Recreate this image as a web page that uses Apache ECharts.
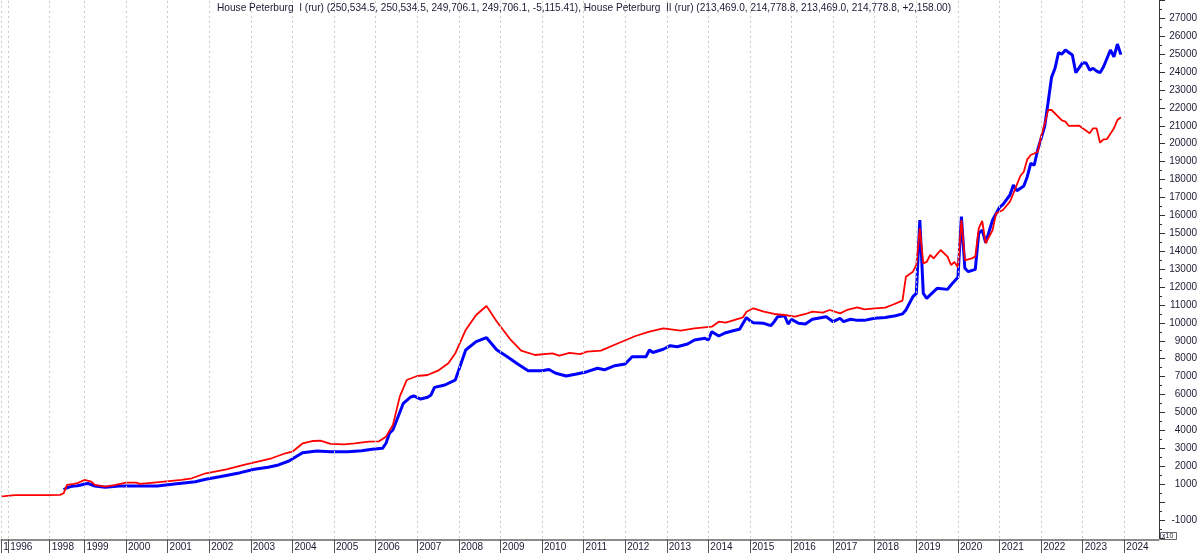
<!DOCTYPE html>
<html>
<head>
<meta charset="utf-8">
<script src="https://cdn.jsdelivr.net/npm/echarts@6/dist/echarts.min.js"></script>
<style>html,body{margin:0;padding:0;background:#fff}#c{width:1200px;height:553px}</style>
</head>
<body>
<div id="c"></div>
<script>
// ---- categories (irregular sampling: sparse before 1999, monthly after) ----
const categories = ['1995-11', '1995-12'];
[1996, 1997].forEach(y => [1, 3, 5, 7, 9, 11].forEach(m => categories.push(y + '-' + String(m).padStart(2, '0'))));
for (let m = 1; m <= 10; m++) categories.push('1998-' + String(m).padStart(2, '0'));
for (let y = 1999; y <= 2023; y++) for (let m = 1; m <= 12; m++) categories.push(y + '-' + String(m).padStart(2, '0'));
for (let m = 1; m <= 11; m++) categories.push('2024-' + String(m).padStart(2, '0'));

// year tick positions (first category of every labelled year)
const yearTickCats = ['1995-11', '1996-01', '1998-01', '1999-01', '2000-01', '2001-01', '2002-01', '2003-01',
  '2004-01', '2005-01', '2006-01', '2007-01', '2008-01', '2009-01', '2010-01', '2011-01', '2012-01', '2013-01',
  '2014-01', '2015-01', '2016-01', '2017-01', '2018-01', '2019-01', '2020-01', '2021-01', '2022-01', '2023-01', '2024-01'];
const yearTickLabels = ['1', '1996', '1998', '1999', '2000', '2001', '2002', '2003', '2004', '2005', '2006', '2007',
  '2008', '2009', '2010', '2011', '2012', '2013', '2014', '2015', '2016', '2017', '2018', '2019', '2020', '2021',
  '2022', '2023', '2024'];

const titleText = 'House Peterburg  I (rur) (250,534.5, 250,534.5, 249,706.1, 249,706.1, -5,115.41), House Peterburg  II (rur) (213,469.0, 214,778.8, 213,469.0, 214,778.8, +2,158.00)';

// ---- House Peterburg I (blue) ----
const houseI = [
  ['1998-05', 700], ['1998-06', 800], ['1998-07', 860], ['1998-08', 900], ['1998-09', 915], ['1998-10', 950],
  ['1999-01', 1010], ['1999-02', 1040], ['1999-04', 898], ['1999-07', 826], ['1999-11', 898], ['2000-05', 898],
  ['2000-10', 898], ['2001-03', 1010], ['2001-09', 1138], ['2001-12', 1272], ['2002-04', 1417], ['2002-10', 1641],
  ['2003-02', 1830], ['2003-06', 1942], ['2003-09', 2070], ['2003-12', 2293], ['2004-02', 2533], ['2004-04', 2757],
  ['2004-08', 2851], ['2004-12', 2812], ['2005-05', 2812], ['2005-09', 2868], ['2005-12', 2950], ['2006-03', 3000],
  ['2006-04', 3281], ['2006-05', 3839], ['2006-06', 4023], ['2006-09', 5513], ['2006-11', 5848], ['2006-12', 5920],
  ['2007-02', 5750], ['2007-04', 5848], ['2007-05', 5976], ['2007-06', 6400], ['2007-09', 6534], ['2007-11', 6718],
  ['2007-12', 6813], ['2008-03', 8487], ['2008-06', 8950], ['2008-09', 9175], ['2008-12', 8487], ['2009-03', 8113],
  ['2009-06', 7706], ['2009-09', 7332], ['2010-01', 7332], ['2010-03', 7400], ['2010-05', 7187], ['2010-08', 7036],
  ['2010-11', 7150], ['2011-02', 7276], ['2011-05', 7466], ['2011-07', 7380], ['2011-10', 7611], ['2012-01', 7706],
  ['2012-03', 8113], ['2012-07', 8113], ['2012-08', 8487], ['2012-09', 8350], ['2012-12', 8526], ['2013-02', 8727],
  ['2013-04', 8670], ['2013-07', 8822], ['2013-09', 9045], ['2013-12', 9140], ['2014-01', 9045], ['2014-02', 9508],
  ['2014-04', 9268], ['2014-06', 9452], ['2014-09', 9603], ['2014-10', 9642], ['2014-12', 10300], ['2015-01', 10122],
  ['2015-02', 10010], ['2015-05', 9976], ['2015-07', 9843], ['2015-08', 10066], ['2015-09', 10345], ['2015-11', 10400],
  ['2015-12', 9938], ['2016-01', 10198], ['2016-03', 9976], ['2016-05', 9938], ['2016-07', 10200], ['2016-11', 10345],
  ['2017-01', 10066], ['2017-03', 10257], ['2017-04', 10066], ['2017-06', 10200], ['2017-08', 10140], ['2017-10', 10140],
  ['2018-01', 10257], ['2018-04', 10300], ['2018-07', 10400], ['2018-09', 10500], ['2018-10', 10719], ['2018-12', 11461],
  ['2019-01', 11650], ['2019-02', 15740], ['2019-03', 11650], ['2019-04', 11370], ['2019-05', 11560], ['2019-07', 11930],
  ['2019-10', 11870], ['2019-11', 12114], ['2020-01', 12543], ['2020-02', 15926], ['2020-03', 13046], ['2020-04', 12856],
  ['2020-06', 12990], ['2020-07', 14998], ['2020-08', 15182], ['2020-09', 14474], ['2020-11', 15740], ['2021-01', 16449],
  ['2021-02', 16617], ['2021-04', 17136], ['2021-05', 17694], ['2021-06', 17376], ['2021-08', 17640], ['2021-09', 18157],
  ['2021-10', 18905], ['2021-11', 18800], ['2021-12', 19647], ['2022-02', 20950], ['2022-03', 22300], ['2022-04', 23700],
  ['2022-05', 24206], ['2022-06', 25076], ['2022-07', 25000], ['2022-08', 25227], ['2022-10', 24950], ['2022-11', 23961],
  ['2023-01', 24519], ['2023-02', 24500], ['2023-03', 24111], ['2023-04', 24200], ['2023-05', 24050], ['2023-06', 23961],
  ['2023-07', 24296], ['2023-09', 25227], ['2023-10', 24850], ['2023-11', 25562], ['2023-12', 24971]
];

// ---- House Peterburg II (red) ----
const houseII = [
  ['1995-11', 320], ['1995-12', 330], ['1996-05', 390], ['1997-11', 390], ['1998-01', 390], ['1998-04', 400],
  ['1998-05', 490], ['1998-06', 960], ['1998-08', 1010], ['1998-09', 1060], ['1999-01', 1233], ['1999-03', 1140],
  ['1999-04', 954], ['1999-07', 860], ['1999-10', 954], ['2000-01', 1083], ['2000-04', 1083], ['2000-05', 1010],
  ['2000-09', 1083], ['2000-12', 1138], ['2001-05', 1233], ['2001-08', 1328], ['2001-12', 1607], ['2002-06', 1830],
  ['2002-11', 2070], ['2003-03', 2254], ['2003-07', 2444], ['2003-11', 2723], ['2004-01', 2812], ['2004-04', 3281],
  ['2004-07', 3409], ['2004-09', 3426], ['2004-10', 3370], ['2004-12', 3242], ['2005-04', 3220], ['2005-07', 3281],
  ['2005-11', 3370], ['2006-02', 3390], ['2006-04', 3650], ['2006-06', 4300], ['2006-08', 5900], ['2006-10', 6813],
  ['2007-01', 7036], ['2007-04', 7092], ['2007-07', 7332], ['2007-10', 7745], ['2007-12', 8303], ['2008-03', 9603],
  ['2008-06', 10440], ['2008-09', 10942], ['2008-12', 10066], ['2009-04', 9045], ['2009-07', 8448], ['2009-11', 8208],
  ['2010-04', 8303], ['2010-06', 8169], ['2010-09', 8320], ['2010-12', 8260], ['2011-02', 8393], ['2011-06', 8448],
  ['2011-11', 8861], ['2012-04', 9268], ['2012-08', 9508], ['2012-12', 9697], ['2013-05', 9564], ['2013-09', 9697],
  ['2014-02', 9787], ['2014-04', 10066], ['2014-06', 10010], ['2014-11', 10312], ['2014-12', 10624], ['2015-02', 10814],
  ['2015-05', 10624], ['2015-08', 10496], ['2015-11', 10440], ['2016-02', 10345], ['2016-05', 10496], ['2016-07', 10624],
  ['2016-10', 10570], ['2016-12', 10719], ['2017-03', 10530], ['2017-05', 10719], ['2017-08', 10870], ['2017-10', 10757],
  ['2018-01', 10814], ['2018-04', 10850], ['2018-06', 10998], ['2018-09', 11238], ['2018-10', 12577], ['2018-12', 12856],
  ['2019-01', 13230], ['2019-02', 15278], ['2019-03', 13324], ['2019-04', 13400], ['2019-05', 13788], ['2019-06', 13600],
  ['2019-08', 14066], ['2019-10', 13700], ['2019-11', 13230], ['2019-12', 13400], ['2020-01', 13100], ['2020-02', 15740],
  ['2020-03', 13509], ['2020-04', 13550], ['2020-05', 13600], ['2020-06', 13700], ['2020-07', 15278], ['2020-08', 15685],
  ['2020-09', 14438], ['2020-11', 15182], ['2020-12', 16113], ['2021-02', 16299], ['2021-04', 16763], ['2021-05', 17232],
  ['2021-07', 18197], ['2021-08', 18436], ['2021-09', 19128], ['2021-10', 19368], ['2021-11', 19450], ['2021-12', 19552],
  ['2022-01', 20400], ['2022-02', 21100], ['2022-03', 21880], ['2022-04', 21880], ['2022-07', 21300], ['2022-08', 21230],
  ['2022-09', 20990], ['2022-12', 21000], ['2023-03', 20580], ['2023-04', 20858], ['2023-05', 20850], ['2023-06', 20054],
  ['2023-07', 20240], ['2023-08', 20260], ['2023-10', 20858], ['2023-11', 21321], ['2023-12', 21478]
];

const FONT = '"Liberation Sans", Arial, sans-serif';
const TXT = '#1a1a33';
const yearSet = new Set(yearTickCats);
const isYear = (i) => yearSet.has(categories[i]);

const chart = echarts.init(document.getElementById('c'), null, { renderer: 'canvas' });
chart.setOption({
  animation: false,
  backgroundColor: '#fff',
  textStyle: { fontFamily: FONT },
  title: {
    text: titleText, left: 217, top: 3, padding: 0,
    textStyle: { fontFamily: FONT, fontSize: 10.15, fontWeight: 'normal', color: TXT }
  },
  grid: { left: 1.2, right: 40.7, top: 0.34, bottom: 15.1, containLabel: false },
  xAxis: {
    type: 'category', data: categories, boundaryGap: false, offset: 1.4,
    axisLine: { show: true, onZero: false, lineStyle: { color: '#666', width: 1.5 } },
    axisTick: { show: true, length: 14, interval: (i) => isYear(i), lineStyle: { color: '#555' } },
    axisLabel: {
      interval: (i) => isYear(i), align: 'left', margin: 3, padding: [0, 0, 0, 2],
      fontFamily: FONT, fontSize: 10, color: TXT, showMinLabel: true,
      formatter: (v) => yearTickLabels[yearTickCats.indexOf(v)]
    },
    splitLine: { show: false }
  },
  yAxis: {
    type: 'value', position: 'right', min: -2000, max: 28000, interval: 1000,
    axisLine: { show: true, lineStyle: { color: '#333' } },
    axisTick: { show: true, length: 6, lineStyle: { color: '#333' } },
    minorTick: { show: true, splitNumber: 2, length: 3, lineStyle: { color: '#333' } },
    splitLine: { show: false },
    axisLabel: {
      align: 'right', margin: 38, fontFamily: FONT, fontSize: 10, color: TXT,
      formatter: (v) => (v === 0 || v === 28000 || v === -2000) ? '' : String(v)
    }
  },
  graphic: [
    { type: 'rect', shape: { x: 1160.5, y: 532.5, width: 16, height: 7 }, style: { fill: '#fff', stroke: '#666', lineWidth: 1 } },
    { type: 'text', x: 1162, y: 533, style: { text: 'x10', fontSize: 7, fontFamily: FONT, fill: TXT } }
  ],
  series: [
    { name: 'year grid', type: 'line', data: [], silent: true, z: 1,
      markLine: {
        silent: true, symbol: ['none', 'none'], label: { show: false }, animation: false,
        lineStyle: { color: '#c8c8c8', type: [2, 3], width: 1 },
        data: yearTickCats.map(c => ({ xAxis: c }))
      } },
    { name: 'House Peterburg  I (rur)', type: 'line', data: houseI, symbol: 'none', smooth: false,
      lineStyle: { color: '#0000ff', width: 3 }, itemStyle: { color: '#0000ff' }, z: 2 },
    { name: 'House Peterburg  II (rur)', type: 'line', data: houseII, symbol: 'none', smooth: false,
      lineStyle: { color: '#ff0000', width: 1.8 }, itemStyle: { color: '#ff0000' }, z: 3 }
  ]
});
</script>
</body>
</html>
